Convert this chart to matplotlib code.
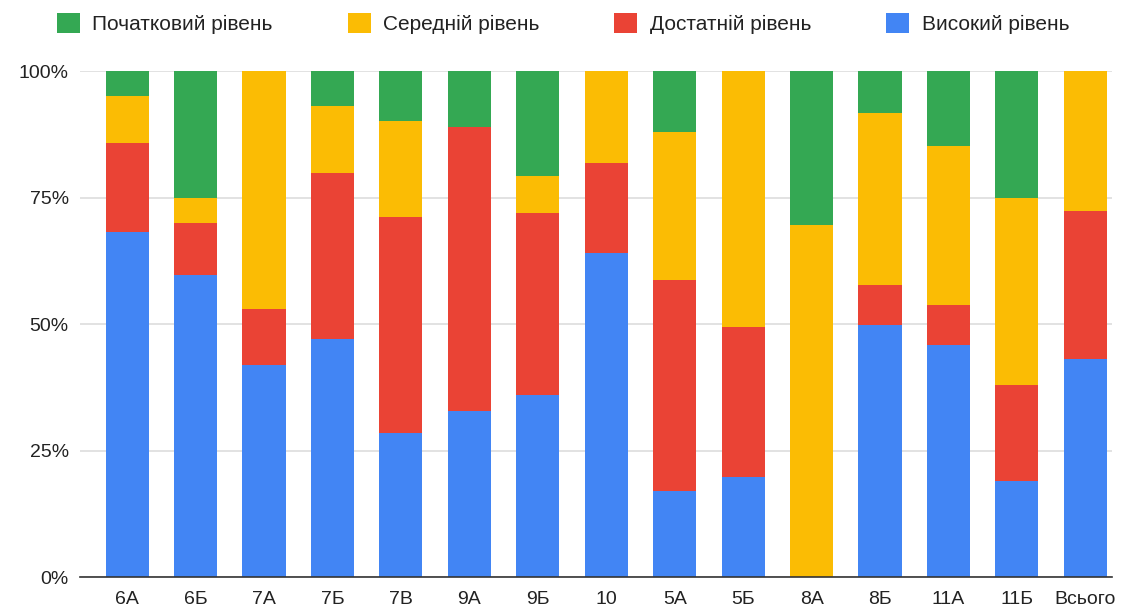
"""
Stacked percentage bar chart of achievement levels by class
"""
import matplotlib
matplotlib.use('Agg')
import matplotlib.pyplot as plt
from matplotlib.patches import Patch
from matplotlib.ticker import FuncFormatter
import numpy as np

classes = ['6А', '6Б', '7А', '7Б', '7В', '9А', '9Б', '10', '5А', '5Б', '8А', '8Б', '11А', '11Б', 'Всього']

# percent of each class per level
high = [68.1, 59.7, 41.9, 47.1, 28.5, 32.9, 36.0, 64.1, 17.0, 19.8, 0.0, 49.9, 45.9, 19.0, 43.1]
sufficient = [17.7, 10.3, 11.0, 32.8, 42.6, 56.1, 35.9, 17.8, 41.7, 29.6, 0.0, 7.8, 7.8, 18.9, 29.2]
medium = [9.2, 4.9, 47.1, 13.1, 19.0, 0.0, 7.3, 18.1, 29.2, 50.6, 69.6, 34.1, 31.4, 37.0, 27.7]
initial = [5.0, 25.1, 0.0, 7.0, 9.9, 11.0, 20.8, 0.0, 12.1, 0.0, 30.4, 8.2, 14.9, 25.1, 0.0]

series = [
    ('Високий рівень', high, '#4285F4'),
    ('Достатній рівень', sufficient, '#EA4335'),
    ('Середній рівень', medium, '#FBBC04'),
    ('Початковий рівень', initial, '#34A853'),
]

plt.rcParams['font.family'] = ['Liberation Sans', 'DejaVu Sans']

fig = plt.figure(figsize=(11.26, 6.16), dpi=100)
ax = fig.add_axes([0.071, 0.0633, 0.9166, 0.8214])

x = np.arange(len(classes))
bottom = np.zeros(len(classes))
for name, vals, color in series:
    vals = np.array(vals)
    ax.bar(x, vals, bottom=bottom, width=0.63, color=color, zorder=3, linewidth=0)
    bottom += vals

ax.set_xlim(-0.69, 14.39)
ax.set_ylim(0, 100)
ax.set_yticks([0, 25, 50, 75, 100])
ax.yaxis.set_major_formatter(FuncFormatter(lambda v, p: f'{int(v)}%'))
ax.set_xticks(x)
ax.set_xticklabels(classes)
ax.tick_params(axis='both', length=0, labelsize=14, labelcolor='#222222')
ax.tick_params(axis='y', pad=8)
ax.tick_params(axis='x', pad=10)

ax.grid(axis='y', color='#dddddd', linewidth=1.2, zorder=0)
for side in ['top', 'right', 'left']:
    ax.spines[side].set_visible(False)
ax.spines['bottom'].set_color('#333333')
ax.spines['bottom'].set_linewidth(1.2)
ax.spines['bottom'].set_zorder(4)

handles = [Patch(facecolor=c, label=n) for n, _, c in series[::-1]]
fig.legend(handles=handles, loc='upper center', bbox_to_anchor=(0.5, 1.01),
           ncol=4, frameon=False, fontsize=15, handlelength=1.1,
           handleheight=1.1, handletextpad=0.6, columnspacing=3.6,
           labelcolor='#222222')

fig.savefig('out.png', dpi=100)
